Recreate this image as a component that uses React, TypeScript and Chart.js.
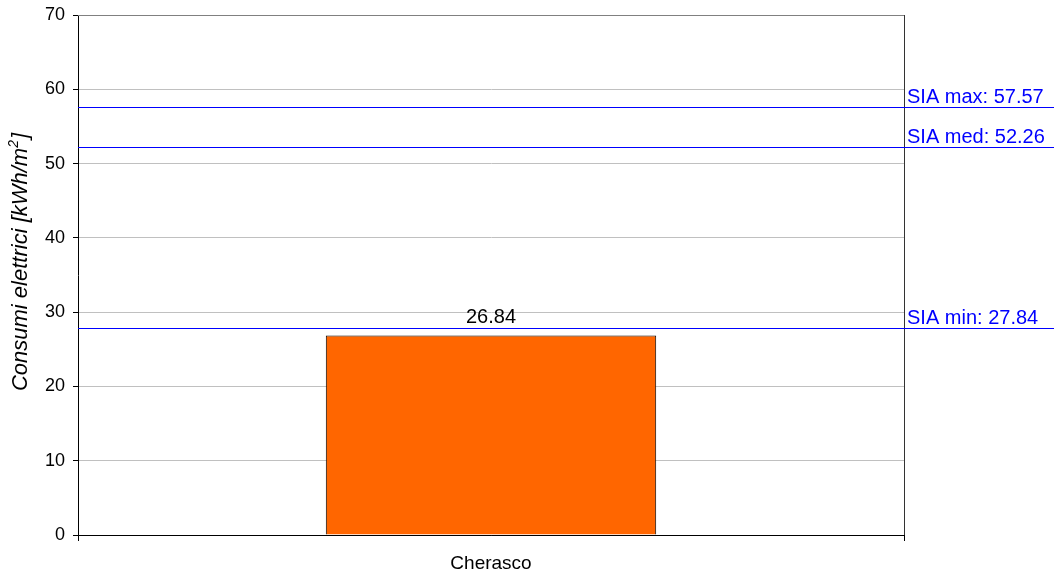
import React, { useEffect, useRef } from "react";
import { Chart, registerables } from "chart.js";

Chart.register(...registerables);

const categories = ["Cherasco"];
const consumi = [26.84];
const siaLabels = ["SIA max", "SIA med", "SIA min"];
const siaValues = [57.57, 52.26, 27.84];
const yTicks = [0, 10, 20, 30, 40, 50, 60, 70];
const yTitleMain = "Consumi elettrici [kWh/m";
const yTitleSup = "2";
const yTitleEnd = "]";

const FONT = "'Liberation Sans', Arial, sans-serif";

// Frame, SIA reference lines with labels, bar value and the rotated y-axis title.
const overlayPlugin = {
  id: "overlay",
  beforeDatasetsDraw(chart: any) {
    const { ctx, chartArea } = chart;
    ctx.save();
    ctx.lineWidth = 1;
    ctx.strokeStyle = "#808080";
    ctx.beginPath();
    ctx.moveTo(chartArea.left, Math.round(chartArea.top) + 0.5);
    ctx.lineTo(chartArea.right, Math.round(chartArea.top) + 0.5);
    ctx.stroke();
    ctx.strokeStyle = "#333333";
    ctx.beginPath();
    ctx.moveTo(Math.round(chartArea.right) + 0.5, chartArea.top);
    ctx.lineTo(Math.round(chartArea.right) + 0.5, chartArea.bottom);
    ctx.stroke();
    ctx.restore();
  },
  afterDatasetsDraw(chart: any) {
    const { ctx, chartArea, scales } = chart;
    const y = scales.y;
    ctx.save();
    siaValues.forEach((v) => {
      const py = Math.round(y.getPixelForValue(v)) + 0.5;
      ctx.strokeStyle = "rgb(0, 0, 255)";
      ctx.lineWidth = 1.2;
      ctx.beginPath();
      ctx.moveTo(chartArea.left, py);
      ctx.lineTo(chart.width, py);
      ctx.stroke();
    });
    siaValues.forEach((v, i) => {
      const py = Math.round(y.getPixelForValue(v)) + 0.5;
      ctx.fillStyle = "rgb(0, 0, 255)";
      ctx.font = `20px ${FONT}`;
      ctx.textAlign = "left";
      ctx.textBaseline = "alphabetic";
      ctx.fillText(`${siaLabels[i]}: ${v.toFixed(2)}`, chartArea.right + 3, py - 5);
    });
    const meta = chart.getDatasetMeta(0);
    meta.data.forEach((bar: any, i: number) => {
      ctx.fillStyle = "#000000";
      ctx.font = `20px ${FONT}`;
      ctx.textAlign = "center";
      ctx.textBaseline = "alphabetic";
      ctx.fillText(consumi[i].toFixed(2), bar.x, bar.y - 13);
    });

    // y-axis title with a raised exponent
    const cx = 27;
    const cy = 262;
    const main = `italic 22px ${FONT}`;
    const sup = `italic 14px ${FONT}`;
    ctx.font = main;
    const w1 = ctx.measureText(yTitleMain).width;
    const w3 = ctx.measureText(yTitleEnd).width;
    ctx.font = sup;
    const w2 = ctx.measureText(yTitleSup).width;
    const total = w1 + w2 + w3 + 1;
    ctx.translate(cx, cy);
    ctx.rotate(-Math.PI / 2);
    ctx.fillStyle = "#000000";
    ctx.textAlign = "left";
    ctx.textBaseline = "alphabetic";
    let x = -total / 2;
    ctx.font = main;
    ctx.fillText(yTitleMain, x, 0);
    x += w1;
    ctx.font = sup;
    ctx.fillText(yTitleSup, x, -9);
    x += w2 + 1;
    ctx.font = main;
    ctx.fillText(yTitleEnd, x, 0);
    ctx.restore();
  },
};

export default function App() {
  const ref = useRef<HTMLCanvasElement>(null);

  useEffect(() => {
    document.body.style.margin = "0";
    const chart = new Chart(ref.current!, {
      type: "bar",
      data: {
        labels: categories,
        datasets: [
          {
            data: consumi,
            backgroundColor: "#ff6600",
            borderColor: "#000000",
            borderWidth: 1,
            barPercentage: 0.4,
            categoryPercentage: 1,
          },
        ],
      },
      options: {
        animation: false,
        responsive: false,
        maintainAspectRatio: false,
        layout: { padding: { top: 15, right: 150, bottom: 0, left: 0 } },
        plugins: {
          legend: { display: false },
          tooltip: { enabled: false },
        },
        scales: {
          x: {
            afterFit(axis: any) {
              axis.height = 35;
              axis.paddingLeft = 0;
              axis.paddingRight = 0;
            },
            grid: {
              offset: true,
              drawOnChartArea: false,
              drawTicks: true,
              tickLength: 6,
              color: "#000000",
            },
            border: { color: "#000000", width: 1 },
            ticks: {
              color: "#000000",
              font: { family: FONT, size: 19 },
              padding: 11,
            },
          },
          y: {
            min: 0,
            max: 70,
            afterFit(axis: any) {
              axis.width = 78;
              axis.paddingTop = 0;
              axis.paddingBottom = 0;
            },
            afterBuildTicks(axis: any) {
              axis.ticks = yTicks.map((v) => ({ value: v }));
            },
            grid: {
              color: (c: any) => (c.tick && c.tick.value === 0 ? "#000000" : "#c0c0c0"),
              tickColor: "#000000",
              tickLength: 5,
              drawTicks: true,
            },
            border: { color: "#000000", width: 1 },
            ticks: {
              color: "#000000",
              font: { family: FONT, size: 18 },
              padding: 8,
            },
          },
        },
      },
      plugins: [overlayPlugin],
    });
    return () => chart.destroy();
  }, []);

  return (
    <div style={{ position: "relative", width: 1054, height: 570 }}>
      <canvas ref={ref} width={1054} height={570} style={{ display: "block" }} />
    </div>
  );
}
